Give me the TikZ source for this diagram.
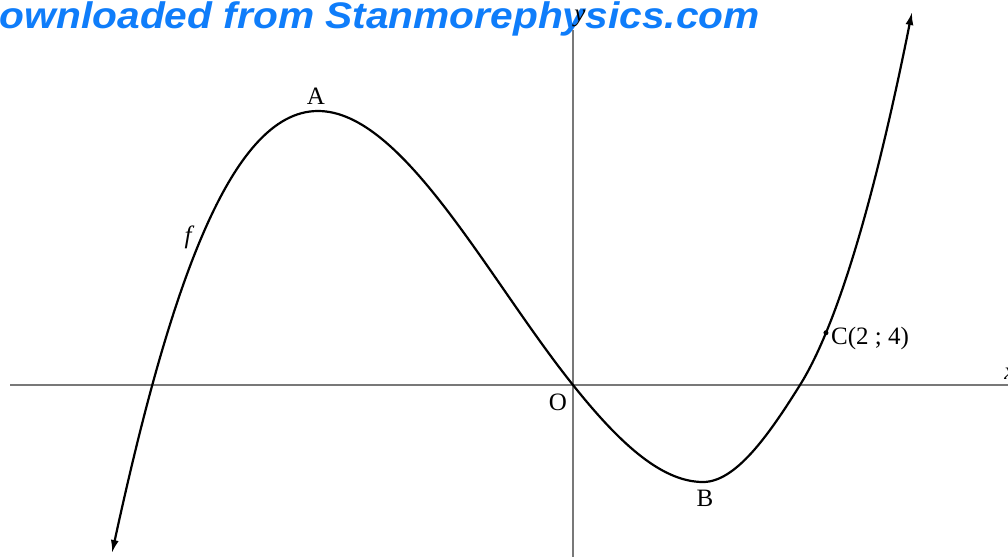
\documentclass[tikz,border=0pt]{standalone}
\usepackage{fontspec}
\setmainfont{Liberation Serif}
\newfontfamily\wmfont{Liberation Sans}
\usetikzlibrary{arrows.meta}
\definecolor{wmblue}{RGB}{15,125,250}
\definecolor{axisgray}{RGB}{120,120,120}
\tikzset{
  axisline/.style={draw=axisgray, line width=1.2pt},
  curveline/.style={draw=black, line width=2.2pt, {Latex[length=13pt,width=8pt]}-{Latex[length=13pt,width=8pt]}},
  lbl/.style={font=\fontsize{25}{28}\selectfont, inner sep=0pt},
  ilbl/.style={font=\fontsize{25}{28}\selectfont\itshape, inner sep=0pt},
  wm/.style={font=\wmfont\fontsize{37}{40}\selectfont\bfseries\itshape, text=wmblue, inner sep=0pt}
}
\begin{document}
\begin{tikzpicture}[x=1pt,y=-1pt]
\useasboundingbox (0,0) rectangle (1008,557);
% watermark
\node[wm, anchor=base east] (wmark) at (760,28) {\scalebox{1.1}[1]{Downloaded from Stanmorephysics.com}};
% axes
\coordinate (xl) at (10,385);
\coordinate (xr) at (1008,385);
\coordinate (yt) at (573,30);
\coordinate (yb) at (573,557);
\draw[axisline] (xl) -- (xr);
\draw[axisline] (yt) -- (yb);
% curve
\coordinate (P0) at (112,553);
\coordinate (Amax) at (318,111);
\coordinate (O0) at (573,385);
\coordinate (Bmin) at (703,482);
\coordinate (X2) at (800,385);
\coordinate (P1) at (912,12);
\draw[curveline] (P0)
  .. controls (167,300) and (228,111) .. (Amax)
  .. controls (403,111) and (488,279) .. (O0)
  .. controls (616.3,439.2) and (659.7,482) .. (Bmin)
  .. controls (735.3,482) and (767.7,436.7) .. (X2)
  .. controls (837.3,325.3) and (874.7,198.7) .. (P1) coordinate[pos=0.232] (C);
\fill (C) circle (2.5pt);
% labels
\node[lbl] (A) at (316,96) {A};
\node[lbl] (B) at (705,498) {B};
\node[lbl] (O) at (558,402) {O};
\node[lbl, anchor=west] (Clab) at ([xshift=5pt,yshift=-6pt]C) {C(2 ; 4)};
\node[ilbl] (f) at (188,237) {f};
\node[ilbl] (xlab) at (1010,374) {x};
\node[ilbl] (ylab) at (580,18) {y};
\end{tikzpicture}
\end{document}
